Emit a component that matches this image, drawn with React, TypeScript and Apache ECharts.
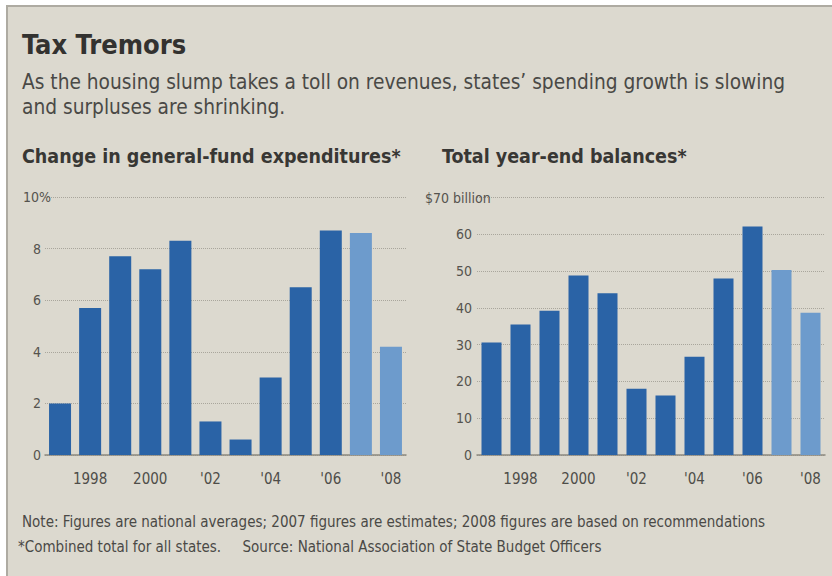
import React, { useEffect, useRef } from "react";
import * as echarts from "echarts";

const years = ["1997", "1998", "1999", "2000", "2001", "2002", "2003", "2004", "2005", "2006", "2007", "2008"];
const xTickLabels = ["", "1998", "", "2000", "", "'02", "", "'04", "", "'06", "", "'08"];
const estimatedYears = ["2007", "2008"];
const expenditureChange = [2.0, 5.7, 7.7, 7.2, 8.3, 1.3, 0.6, 3.0, 6.5, 8.7, 8.6, 4.2];
const yearEndBalances = [30.6, 35.5, 39.2, 48.8, 44.0, 18.0, 16.2, 26.7, 48.0, 62.1, 50.3, 38.7];

const titleText = "Tax Tremors";
const subtitleLines = [
  "As the housing slump takes a toll on revenues, states\u2019 spending growth is slowing",
  "and surpluses are shrinking.",
];
const leftChartTitle = "Change in general-fund expenditures*";
const rightChartTitle = "Total year-end balances*";
const noteLines = [
  "Note: Figures are national averages; 2007 figures are estimates; 2008 figures are based on recommendations",
  "*Combined total for all states.     Source: National Association of State Budget Officers",
];

const DARK = "#2a63a6";
const LIGHT = "#6d9bcc";
const BG = "#dcd9cf";
const FONT = "'Liberation Sans Narrow', 'DejaVu Sans Condensed', 'Liberation Sans', sans-serif";

export default function App() {
  const ref = useRef<HTMLDivElement>(null);
  useEffect(() => {
    if (!ref.current) return;
    const chart = echarts.init(ref.current, null, { renderer: "svg" });

    const barData = (vals: number[]) =>
      vals.map((v, i) => ({
        value: v,
        itemStyle: { color: estimatedYears.includes(years[i]) ? LIGHT : DARK },
      }));

    const xAxisBase = (gridIndex: number) => ({
      type: "category",
      gridIndex,
      data: years,
      boundaryGap: true,
      axisLine: { lineStyle: { color: "#8c8980", width: 1.5 } },
      axisTick: { alignWithLabel: true, length: 5, lineStyle: { color: "#77746c" } },
      axisLabel: {
        interval: 0,
        margin: 16,
        fontFamily: FONT,
        fontSize: 15,
        color: "#4e4d49",
        formatter: (_v: string, i: number) => xTickLabels[i],
      },
    });

    const splitLine = { show: true, lineStyle: { color: "#a9a69c", type: "dotted", width: 1 } };
    const labelStyle = { fontFamily: FONT, fontSize: 14, color: "#55534e" };

    chart.setOption({
      animation: false,
      backgroundColor: "#ffffff",
      grid: [
        { left: 45, top: 197, width: 361, height: 258, outerBoundsMode: "none", containLabel: false },
        { left: 477, top: 197.5, width: 348, height: 257.5, outerBoundsMode: "none", containLabel: false },
      ],
      xAxis: [xAxisBase(0), xAxisBase(1)],
      yAxis: [
        {
          type: "value",
          gridIndex: 0,
          position: "left",
          min: 0,
          max: 10,
          interval: 2,
          axisLine: { show: false },
          axisTick: { show: false },
          splitLine,
          axisLabel: {
            ...labelStyle,
            align: "center",
            margin: 8,
            formatter: (v: number) => (v === 10 ? "10%" : String(v)),
          },
        },
        {
          type: "value",
          gridIndex: 1,
          position: "left",
          min: 0,
          max: 70,
          interval: 10,
          axisLine: { show: false },
          axisTick: { show: false },
          splitLine,
          axisLabel: {
            ...labelStyle,
            align: "right",
            margin: 5,
            formatter: (v: number) => (v === 70 ? "" : String(v)),
          },
        },
        {
          type: "value",
          gridIndex: 1,
          position: "left",
          offset: 0,
          min: 0,
          max: 70,
          interval: 10,
          axisLine: { show: false },
          axisTick: { show: false },
          splitLine: { show: false },
          axisLabel: {
            ...labelStyle,
            align: "left",
            margin: 52,
            formatter: (v: number) => (v === 70 ? "$70 billion" : ""),
          },
        },
      ],
      series: [
        {
          type: "bar",
          xAxisIndex: 0,
          yAxisIndex: 0,
          barWidth: 22,
          data: barData(expenditureChange),
        },
        {
          type: "bar",
          xAxisIndex: 1,
          yAxisIndex: 1,
          barWidth: 20,
          data: barData(yearEndBalances),
        },
      ],
      graphic: [
        {
          type: "rect",
          z: -10,
          silent: true,
          shape: { x: 7, y: 6, width: 830, height: 575 },
          style: { fill: BG, stroke: "#aeaba2", lineWidth: 2 },
        },
        {
          type: "text",
          x: 22,
          y: 31,
          style: { text: titleText, font: `bold 27px ${FONT}`, fill: "#333230" },
        },
        ...subtitleLines.map((t, i) => ({
          type: "text",
          x: 22,
          y: 71 + i * 25,
          style: { text: t, font: `20.7px ${FONT}`, fill: "#4a4946" },
        })),
        {
          type: "text",
          x: 22,
          y: 146,
          style: { text: leftChartTitle, font: `bold 19.5px ${FONT}`, fill: "#383734" },
        },
        {
          type: "text",
          x: 442,
          y: 146,
          style: { text: rightChartTitle, font: `bold 19.5px ${FONT}`, fill: "#383734" },
        },
        ...noteLines.map((t, i) => ({
          type: "text",
          x: i === 0 ? 22 : 18,
          y: 514 + i * 25,
          style: { text: t, font: `15px ${FONT}`, fill: "#4a4946" },
        })),
      ],
    });
    return () => chart.dispose();
  }, []);
  return (
    <div
      ref={ref}
      style={{ position: "absolute", left: 0, top: 0, width: 832, height: 576 }}
    />
  );
}
